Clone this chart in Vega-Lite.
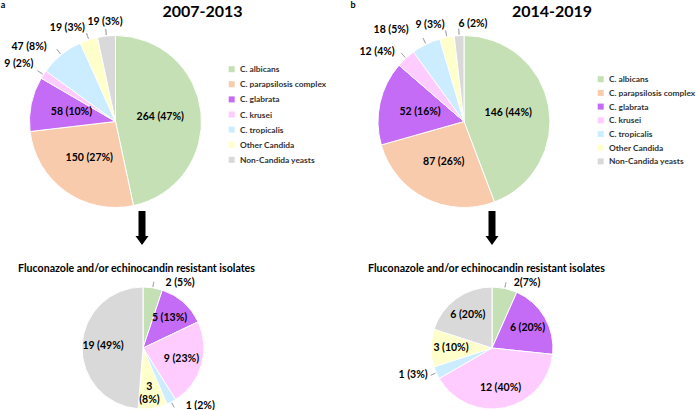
{
  "$schema": "https://vega.github.io/schema/vega-lite/v6.json",
  "padding": 0,
  "background": "white",
  "config": {"view": {"stroke": null}, "font": "Lato"},
  "datasets": {
    "a_all": [
      {"k": 1, "species": "C. albicans", "n": 264, "label": "264 (47%)"},
      {"k": 2, "species": "C. parapsilosis complex", "n": 150, "label": "150 (27%)"},
      {"k": 3, "species": "C. glabrata", "n": 58, "label": "58 (10%)"},
      {"k": 4, "species": "C. krusei", "n": 9, "label": "9 (2%)"},
      {"k": 5, "species": "C. tropicalis", "n": 47, "label": "47 (8%)"},
      {"k": 6, "species": "Other Candida", "n": 19, "label": "19 (3%)"},
      {"k": 7, "species": "Non-Candida yeasts", "n": 19, "label": "19 (3%)"}
    ],
    "b_all": [
      {"k": 1, "species": "C. albicans", "n": 146, "label": "146 (44%)"},
      {"k": 2, "species": "C. parapsilosis complex", "n": 87, "label": "87 (26%)"},
      {"k": 3, "species": "C. glabrata", "n": 52, "label": "52 (16%)"},
      {"k": 4, "species": "C. krusei", "n": 12, "label": "12 (4%)"},
      {"k": 5, "species": "C. tropicalis", "n": 18, "label": "18 (5%)"},
      {"k": 6, "species": "Other Candida", "n": 9, "label": "9 (3%)"},
      {"k": 7, "species": "Non-Candida yeasts", "n": 6, "label": "6 (2%)"}
    ],
    "a_res": [
      {"k": 1, "species": "C. albicans", "n": 2, "label": "2 (5%)"},
      {"k": 3, "species": "C. glabrata", "n": 5, "label": "5 (13%)"},
      {"k": 4, "species": "C. krusei", "n": 9, "label": "9 (23%)"},
      {"k": 5, "species": "C. tropicalis", "n": 1, "label": "1 (2%)"},
      {"k": 6, "species": "Other Candida", "n": 3, "label": "3\n(8%)"},
      {"k": 7, "species": "Non-Candida yeasts", "n": 19, "label": "19 (49%)"}
    ],
    "b_res": [
      {"k": 1, "species": "C. albicans", "n": 2, "label": "2(7%)"},
      {"k": 3, "species": "C. glabrata", "n": 6, "label": "6 (20%)"},
      {"k": 4, "species": "C. krusei", "n": 12, "label": "12 (40%)"},
      {"k": 5, "species": "C. tropicalis", "n": 1, "label": "1 (3%)"},
      {"k": 6, "species": "Other Candida", "n": 3, "label": "3 (10%)"},
      {"k": 7, "species": "Non-Candida yeasts", "n": 6, "label": "6 (20%)"}
    ]
  },
  "columns": 2,
  "align": "each",
  "bounds": "flush",
  "spacing": {"row": 0, "column": 66},
  "resolve": {"scale": {"color": "independent", "theta": "independent"}, "legend": {"color": "independent"}},
  "concat": [
    {
      "width": 4, "height": 10,
      "data": {"values": [{"t": "a"}]},
      "mark": {"type": "text", "fontSize": 9, "fontWeight": "bold", "color": "black"},
      "encoding": {"text": {"field": "t", "type": "nominal"}}
    },
    {
      "width": 4, "height": 10,
      "data": {"values": [{"t": "b"}]},
      "mark": {"type": "text", "fontSize": 9, "fontWeight": "bold", "color": "black"},
      "encoding": {"text": {"field": "t", "type": "nominal"}}
    },
    {
      "title": {"text": "2007-2013", "fontSize": 16, "fontWeight": "bold", "color": "black", "dx": 87, "offset": -10},
      "width": 229, "height": 223,
      "data": {"name": "a_all"},
      "encoding": {
        "theta": {"field": "n", "type": "quantitative", "stack": true},
        "order": {"field": "k", "type": "quantitative"}
      },
      "layer": [
        {
          "mark": {"type": "arc", "outerRadius": 86, "stroke": "white", "strokeWidth": 1},
          "encoding": {
            "color": {"field": "species", "type": "nominal",
              "scale": {"domain": ["C. albicans", "C. parapsilosis complex", "C. glabrata", "C. krusei", "C. tropicalis", "Other Candida", "Non-Candida yeasts"],
                        "range": ["#C5E0B4", "#F8CBAD", "#C56CF7", "#FFCCFF", "#CCECFF", "#FFFFCC", "#D9D9D9"]},
              "legend": {"title": null, "orient": "none", "legendX": 226.5, "legendY": 55, "symbolType": "square", "symbolSize": 36, "symbolStrokeWidth": 0, "labelFontSize": 8.4, "labelFontWeight": "bold", "labelColor": "#333333", "rowPadding": 6.1, "labelOffset": 4,
                "encode": {"labels": {"fontStyle": {"value": {"expr": "indexof(datum.value, 'C. ') === 0 ? 'italic' : 'normal'"}}}}}
            }
          }
        },
        {
          "mark": {"type": "arc", "innerRadius": 87, "outerRadius": 93, "padAngle": 0.5, "filled": false, "stroke": "#A6A6A6", "strokeWidth": 0.8},
          "encoding": {"strokeOpacity": {"condition": {"test": {"field": "species", "oneOf": ["C. krusei", "C. tropicalis", "Other Candida", "Non-Candida yeasts"]}, "value": 1}, "value": 0}}
        },
        {
          "mark": {"type": "text", "radius": 45, "fontSize": 10.5, "fontWeight": "bold", "color": "black"},
          "encoding": {"text": {"condition": {"test": {"field": "species", "oneOf": ["C. albicans", "C. parapsilosis complex", "C. glabrata"]}, "field": "label", "type": "nominal"}, "value": ""}}
        },
        {
          "mark": {"type": "text", "radius": 98, "align": "right", "dy": -4, "fontSize": 10.5, "fontWeight": "bold", "color": "black"},
          "encoding": {"text": {"condition": {"test": {"field": "species", "oneOf": ["C. krusei"]}, "field": "label", "type": "nominal"}, "value": ""}}
        },
        {
          "mark": {"type": "text", "radius": 98, "align": "right", "dx": -7, "dy": 2, "fontSize": 10.5, "fontWeight": "bold", "color": "black"},
          "encoding": {"text": {"condition": {"test": {"field": "species", "oneOf": ["C. tropicalis"]}, "field": "label", "type": "nominal"}, "value": ""}}
        },
        {
          "mark": {"type": "text", "radius": 98, "align": "right", "fontSize": 10.5, "fontWeight": "bold", "color": "black"},
          "encoding": {"text": {"condition": {"test": {"field": "species", "oneOf": ["Other Candida"]}, "field": "label", "type": "nominal"}, "value": ""}}
        },
        {
          "mark": {"type": "text", "radius": 100, "align": "center", "fontSize": 10.5, "fontWeight": "bold", "color": "black"},
          "encoding": {"text": {"condition": {"test": {"field": "species", "oneOf": ["Non-Candida yeasts"]}, "field": "label", "type": "nominal"}, "value": ""}}
        }
      ]
    },
    {
      "title": {"text": "2014-2019", "fontSize": 16, "fontWeight": "bold", "color": "black", "dx": 88, "offset": -10},
      "width": 226, "height": 223,
      "data": {"name": "b_all"},
      "encoding": {
        "theta": {"field": "n", "type": "quantitative", "stack": true},
        "order": {"field": "k", "type": "quantitative"}
      },
      "layer": [
        {
          "mark": {"type": "arc", "outerRadius": 86, "stroke": "white", "strokeWidth": 1},
          "encoding": {
            "color": {"field": "species", "type": "nominal",
              "scale": {"domain": ["C. albicans", "C. parapsilosis complex", "C. glabrata", "C. krusei", "C. tropicalis", "Other Candida", "Non-Candida yeasts"],
                        "range": ["#C5E0B4", "#F8CBAD", "#C56CF7", "#FFCCFF", "#CCECFF", "#FFFFCC", "#D9D9D9"]},
              "legend": {"title": null, "orient": "none", "legendX": 245.5, "legendY": 65, "symbolType": "square", "symbolSize": 36, "symbolStrokeWidth": 0, "labelFontSize": 8.4, "labelFontWeight": "bold", "labelColor": "#333333", "rowPadding": 4.7, "labelOffset": 4,
                "encode": {"labels": {"fontStyle": {"value": {"expr": "indexof(datum.value, 'C. ') === 0 ? 'italic' : 'normal'"}}}}}
            }
          }
        },
        {
          "mark": {"type": "arc", "innerRadius": 87, "outerRadius": 93, "padAngle": 0.5, "filled": false, "stroke": "#A6A6A6", "strokeWidth": 0.8},
          "encoding": {"strokeOpacity": {"condition": {"test": {"field": "species", "oneOf": ["C. krusei", "C. tropicalis", "Other Candida", "Non-Candida yeasts"]}, "value": 1}, "value": 0}}
        },
        {
          "mark": {"type": "text", "radius": 45, "fontSize": 10.5, "fontWeight": "bold", "color": "black"},
          "encoding": {"text": {"condition": {"test": {"field": "species", "oneOf": ["C. albicans", "C. parapsilosis complex", "C. glabrata"]}, "field": "label", "type": "nominal"}, "value": ""}}
        },
        {
          "mark": {"type": "text", "radius": 98, "align": "right", "dx": -3, "dy": 3, "fontSize": 10.5, "fontWeight": "bold", "color": "black"},
          "encoding": {"text": {"condition": {"test": {"field": "species", "oneOf": ["C. krusei"]}, "field": "label", "type": "nominal"}, "value": ""}}
        },
        {
          "mark": {"type": "text", "radius": 98, "align": "right", "dx": -12, "dy": -4, "fontSize": 10.5, "fontWeight": "bold", "color": "black"},
          "encoding": {"text": {"condition": {"test": {"field": "species", "oneOf": ["C. tropicalis"]}, "field": "label", "type": "nominal"}, "value": ""}}
        },
        {
          "mark": {"type": "text", "radius": 98, "align": "right", "fontSize": 10.5, "fontWeight": "bold", "color": "black"},
          "encoding": {"text": {"condition": {"test": {"field": "species", "oneOf": ["Other Candida"]}, "field": "label", "type": "nominal"}, "value": ""}}
        },
        {
          "mark": {"type": "text", "radius": 98, "align": "left", "fontSize": 10.5, "fontWeight": "bold", "color": "black"},
          "encoding": {"text": {"condition": {"test": {"field": "species", "oneOf": ["Non-Candida yeasts"]}, "field": "label", "type": "nominal"}, "value": ""}}
        }
      ]
    },
    {
      "width": 282, "height": 54,
      "data": {"values": [{"item": "arrow"}]},
      "mark": {"type": "point", "shape": "M-0.07,-0.98L0.07,-0.98L0.07,-0.48L0.13,-0.48L0,-0.3L-0.13,-0.48L-0.07,-0.48Z", "size": 10000, "filled": true, "color": "black", "opacity": 1, "strokeWidth": 0},
      "encoding": {}
    },
    {
      "width": 282, "height": 54,
      "data": {"values": [{"item": "arrow"}]},
      "mark": {"type": "point", "shape": "M-0.07,-0.98L0.07,-0.98L0.07,-0.48L0.13,-0.48L0,-0.3L-0.13,-0.48L-0.07,-0.48Z", "size": 10000, "filled": true, "color": "black", "opacity": 1, "strokeWidth": 0},
      "encoding": {}
    },
    {
      "title": {"text": "Fluconazole and/or echinocandin resistant isolates", "fontSize": 10.6, "fontWeight": "bold", "color": "black", "dx": -6.5, "offset": 3.5},
      "width": 284, "height": 122,
      "data": {"name": "a_res"},
      "encoding": {
        "theta": {"field": "n", "type": "quantitative", "stack": true},
        "order": {"field": "k", "type": "quantitative"}
      },
      "layer": [
        {
          "mark": {"type": "arc", "outerRadius": 61, "stroke": "white", "strokeWidth": 1},
          "encoding": {
            "color": {"field": "species", "type": "nominal",
              "scale": {"domain": ["C. albicans", "C. parapsilosis complex", "C. glabrata", "C. krusei", "C. tropicalis", "Other Candida", "Non-Candida yeasts"],
                        "range": ["#C5E0B4", "#F8CBAD", "#C56CF7", "#FFCCFF", "#CCECFF", "#FFFFCC", "#D9D9D9"]},
              "legend": null}
          }
        },
        {
          "mark": {"type": "arc", "innerRadius": 62, "outerRadius": 67, "padAngle": 0.6, "filled": false, "stroke": "#A6A6A6", "strokeWidth": 0.8},
          "encoding": {"strokeOpacity": {"condition": {"test": {"field": "species", "oneOf": ["C. albicans", "C. tropicalis"]}, "value": 1}, "value": 0}}
        },
        {
          "mark": {"type": "text", "radius": 40, "fontSize": 10.5, "fontWeight": "bold", "color": "black", "lineBreak": "\n", "lineHeight": 13},
          "encoding": {"text": {"condition": {"test": {"field": "species", "oneOf": ["C. glabrata", "C. krusei", "Other Candida", "Non-Candida yeasts"]}, "field": "label", "type": "nominal"}, "value": ""}}
        },
        {
          "mark": {"type": "text", "radius": 66, "align": "left", "dx": 12, "fontSize": 10.5, "fontWeight": "bold", "color": "black"},
          "encoding": {"text": {"condition": {"test": {"field": "species", "oneOf": ["C. albicans", "C. tropicalis"]}, "field": "label", "type": "nominal"}, "value": ""}}
        }
      ]
    },
    {
      "title": {"text": "Fluconazole and/or echinocandin resistant isolates", "fontSize": 10.6, "fontWeight": "bold", "color": "black", "dx": -5.5, "offset": 3.5},
      "width": 282, "height": 122,
      "data": {"name": "b_res"},
      "encoding": {
        "theta": {"field": "n", "type": "quantitative", "stack": true},
        "order": {"field": "k", "type": "quantitative"}
      },
      "layer": [
        {
          "mark": {"type": "arc", "outerRadius": 61, "stroke": "white", "strokeWidth": 1},
          "encoding": {
            "color": {"field": "species", "type": "nominal",
              "scale": {"domain": ["C. albicans", "C. parapsilosis complex", "C. glabrata", "C. krusei", "C. tropicalis", "Other Candida", "Non-Candida yeasts"],
                        "range": ["#C5E0B4", "#F8CBAD", "#C56CF7", "#FFCCFF", "#CCECFF", "#FFFFCC", "#D9D9D9"]},
              "legend": null}
          }
        },
        {
          "mark": {"type": "arc", "innerRadius": 62, "outerRadius": 67, "padAngle": 0.6, "filled": false, "stroke": "#A6A6A6", "strokeWidth": 0.8},
          "encoding": {"strokeOpacity": {"condition": {"test": {"field": "species", "oneOf": ["C. albicans", "C. tropicalis"]}, "value": 1}, "value": 0}}
        },
        {
          "mark": {"type": "text", "radius": 41, "fontSize": 10.5, "fontWeight": "bold", "color": "black"},
          "encoding": {"text": {"condition": {"test": {"field": "species", "oneOf": ["C. glabrata", "C. krusei", "Other Candida", "Non-Candida yeasts"]}, "field": "label", "type": "nominal"}, "value": ""}}
        },
        {
          "mark": {"type": "text", "radius": 66, "align": "left", "dx": 8, "fontSize": 10.5, "fontWeight": "bold", "color": "black"},
          "encoding": {"text": {"condition": {"test": {"field": "species", "oneOf": ["C. albicans"]}, "field": "label", "type": "nominal"}, "value": ""}}
        },
        {
          "mark": {"type": "text", "radius": 66, "align": "right", "dx": -4, "fontSize": 10.5, "fontWeight": "bold", "color": "black"},
          "encoding": {"text": {"condition": {"test": {"field": "species", "oneOf": ["C. tropicalis"]}, "field": "label", "type": "nominal"}, "value": ""}}
        }
      ]
    }
  ]
}
